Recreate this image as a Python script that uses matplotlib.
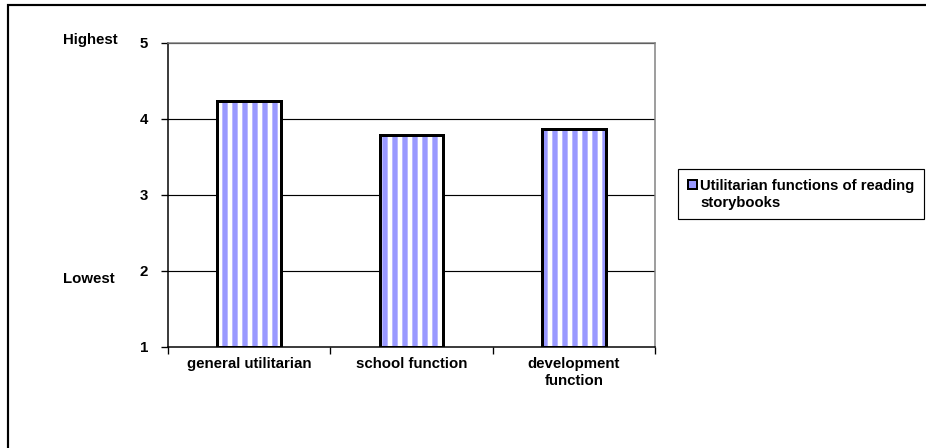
import matplotlib
matplotlib.use('Agg')
import matplotlib.pyplot as plt
from matplotlib.patches import Patch, Rectangle
import numpy as np

plt.rcParams['font.family'] = ['Liberation Sans', 'DejaVu Sans']
plt.rcParams['font.weight'] = 'bold'
plt.rcParams['hatch.linewidth'] = 3.2

categories = ['general utilitarian', 'school function', 'development\nfunction']
values = [4.24, 3.79, 3.87]
series_lines = ['Utilitarian functions of reading', 'storybooks']
yticks = [1, 2, 3, 4, 5]

W, H, DPI = 926, 448, 120
fig = plt.figure(figsize=(W / DPI, H / DPI), dpi=DPI)
fig.patch.set_facecolor('white')

# 绘图区位置（像素换算）
ax = fig.add_axes([168 / W, (H - 347) / H, 487 / W, 304 / H])

x = np.arange(1, len(categories) + 1)
ax.bar(x, np.array(values) - 1, bottom=1, width=0.394, color='white',
       edgecolor='#9999FF', hatch='||', linewidth=0, zorder=3)
ax.bar(x, np.array(values) - 1, bottom=1, width=0.394, fill=False,
       edgecolor='black', linewidth=1.8, zorder=4)

ax.set_xlim(0.5, len(categories) + 0.5)
ax.set_ylim(1, 5)
ax.set_yticks(yticks)
ax.set_yticklabels([str(v) for v in yticks])
for v in yticks[1:]:
    ax.axhline(v, color='black', linewidth=0.7, zorder=1)

ax.set_xticks(np.arange(0.5, len(categories) + 1, 1))
ax.set_xticklabels([])
ax.set_xticks(x, minor=True)
ax.set_xticklabels(categories, minor=True, linespacing=1.25)
ax.tick_params(axis='x', which='minor', length=0, pad=6, labelsize=9)
ax.tick_params(axis='x', which='major', length=4, width=0.8, direction='out')
ax.tick_params(axis='y', length=4, width=0.8, direction='out', pad=8, labelsize=9)

for s in ['left', 'bottom']:
    ax.spines[s].set_color('black')
    ax.spines[s].set_linewidth(0.9)
for s in ['top', 'right']:
    ax.spines[s].set_color('#808080')
    ax.spines[s].set_linewidth(0.9)

fig.text(63 / W, 1 - 40 / H, 'Highest', fontsize=9, va='center', ha='left')
fig.text(63 / W, 1 - 279 / H, 'Lowest', fontsize=9, va='center', ha='left')

# 图例：第二行用一个不可见的句柄，让方块对齐第一行
handle = Patch(facecolor='#9999FF', edgecolor='black', linewidth=1.2)
blank = Patch(facecolor='none', edgecolor='none')
leg = fig.legend([handle, blank], series_lines, loc='upper left',
                 bbox_to_anchor=(678 / W, 1 - 169 / H), bbox_transform=fig.transFigure,
                 borderaxespad=0, fancybox=False, framealpha=1, edgecolor='black',
                 fontsize=8.9, handlelength=0.6, handleheight=0.6, handletextpad=0.25,
                 labelspacing=0.2, borderpad=0.65)
leg.get_frame().set_linewidth(0.7)
for t in leg.get_texts():
    t.set_fontweight('bold')

# 外框
fig.patches.append(Rectangle((8 / W, -0.1), 1.2, 1 - 5 / H + 0.1, transform=fig.transFigure,
                             fill=False, edgecolor='black', linewidth=1.3))

fig.savefig('out.png', dpi=DPI)
